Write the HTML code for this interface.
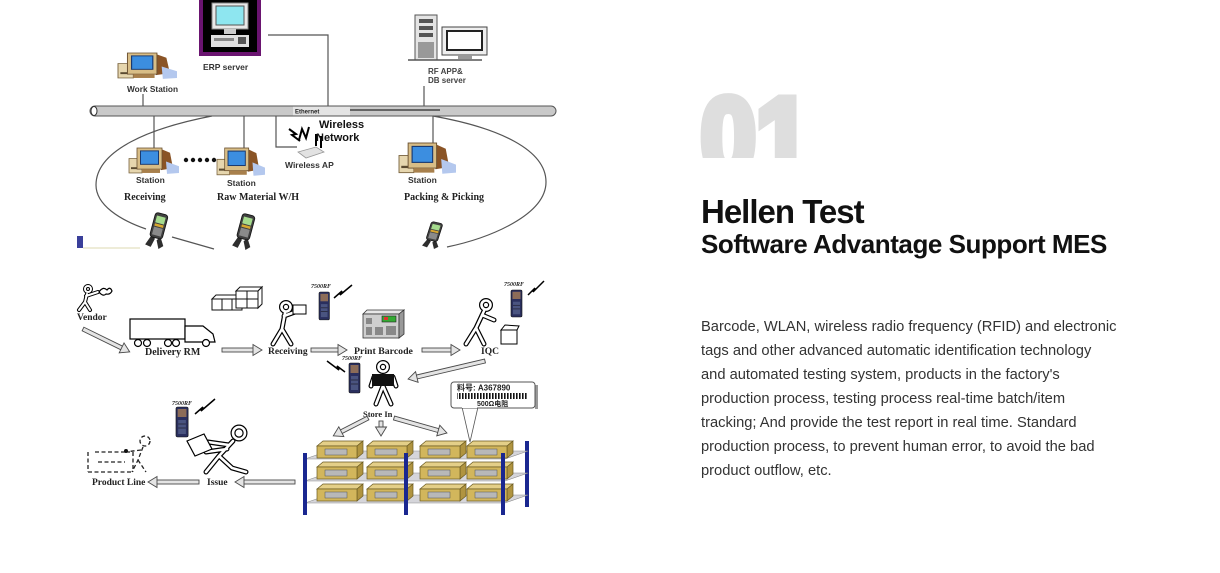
<!DOCTYPE html>
<html><head><meta charset="utf-8"><style>
html,body{margin:0;padding:0}
body{width:1220px;height:573px;background:#fff;position:relative;overflow:hidden;font-family:"Liberation Sans",sans-serif}
.num{position:absolute;left:698px;top:83px;width:140px;height:75px;overflow:hidden}
.num span{display:block;font:bold 110px/110px "Liberation Sans",sans-serif;color:#dedede;-webkit-text-stroke:9px #dedede;transform:scaleX(0.9);transform-origin:0 0;white-space:nowrap;padding-left:3px}
.h1{position:absolute;left:701px;top:195px;font:bold 33px/33px "Liberation Sans",sans-serif;letter-spacing:-1px;color:#111;white-space:nowrap}
.h2{position:absolute;left:701px;top:231px;font:bold 26px/26px "Liberation Sans",sans-serif;letter-spacing:-0.45px;color:#111;white-space:nowrap}
.txt{position:absolute;left:701px;top:315px;font:14.7px/24px "Liberation Sans",sans-serif;color:#333;white-space:nowrap}
svg text{font-family:"Liberation Sans",sans-serif;font-weight:bold}
.sf{font-family:"Liberation Serif",serif !important}
.a{fill:#e4e4e4;stroke:#4a4a4a;stroke-width:0.9}
</style></head><body>
<svg width="600" height="520" viewBox="0 0 600 520" style="position:absolute;left:0;top:0">
<defs>
<g id="st">
 <rect x="0" y="11" width="13" height="15" fill="#e6d6ae" stroke="#7a6440" stroke-width="0.8"/>
 <rect x="2" y="20" width="8" height="2" fill="#5a4a30"/>
 <polygon points="32,1 41,5 44,21 32,23" fill="#8a5426"/>
 <polygon points="37,14 50,19 50,26 38,27" fill="#b4c8ee"/>
 <rect x="8" y="0" width="25" height="22" fill="#d8bd86" stroke="#6a5030" stroke-width="0.8"/>
 <rect x="11.5" y="3" width="18" height="14" fill="#3c8ee0" stroke="#1a3a70" stroke-width="1"/>
 <rect x="13" y="22" width="18" height="4" fill="#a8804c"/>
</g>
<g id="hh">
 <g transform="rotate(15 13 18)">
 <path d="M9,23 L5,34 L11,35 L13,26 Z" fill="#2e2e2e"/>
 <path d="M18,23 L23,31 L19,35 L15,27 Z" fill="#2e2e2e"/>
 <rect x="7" y="0" width="13" height="25" rx="3" fill="#404040" stroke="#111" stroke-width="0.8"/>
 <rect x="9" y="3" width="9" height="7" fill="#a6dc8e"/>
 <rect x="9" y="11" width="9" height="2.5" fill="#d8a830"/>
 <rect x="9" y="14.5" width="9" height="8" fill="#8a8a8a"/>
 </g>
</g>
<g id="rf">
 <rect x="0" y="0" width="11" height="30" rx="1.5" fill="#2a2f5e" stroke="#111" stroke-width="0.6"/>
 <rect x="1.5" y="2" width="8" height="8" fill="#8c6c58"/>
 <rect x="2" y="13" width="7" height="14" fill="#4a5480"/>
 <line x1="2" y1="17" x2="9" y2="17" stroke="#223" stroke-width="0.8"/>
 <line x1="2" y1="21" x2="9" y2="21" stroke="#223" stroke-width="0.8"/>
</g>
<pattern id="bc" width="3" height="6" patternUnits="userSpaceOnUse"><rect width="1.6" height="6" fill="#111"/></pattern>
<g id="fRec"><circle cx="286" cy="307" r="4.5"/><path d="M285,313 L282,329 M282,329 L273,344 M282,329 L291,344 M284,316 L295,312"/></g>
<g id="fIqc"><circle cx="486" cy="305" r="4.5"/><path d="M484,311 L476,328 M476,328 L466,344 M476,328 L484,344 M482,315 L494,320"/></g>
<g id="fSto"><circle cx="383" cy="367" r="4.5"/><path d="M383,386 L376,404 M383,386 L391,404 M374,377 L371,386 M393,377 L396,386"/></g>
<g id="fIss"><circle cx="239" cy="433" r="6"/><path d="M233,441 L219,456 M219,456 L206,472 M219,456 L232,468 L246,472 M229,445 L208,442 M227,449 L206,452"/></g>
<g id="fVen"><circle cx="88" cy="289" r="3"/><path d="M87,294 L85,302 M85,302 L79,310 M85,302 L90,310 M86,296 L98,292"/></g>
</defs>

<!-- top network -->
<rect x="201" y="-3" width="58" height="57" fill="#000" stroke="#6a1470" stroke-width="4"/>
<rect x="212" y="3" width="36" height="26" fill="#e8e8e8" stroke="#888"/>
<rect x="216" y="6" width="28" height="19" fill="#8ee6f0" stroke="#555"/>
<rect x="224" y="29" width="12" height="5" fill="#ccc"/>
<rect x="211" y="35" width="38" height="12" fill="#e0e0e0"/>
<rect x="214" y="38" width="20" height="3" fill="#888"/>
<rect x="238" y="37" width="8" height="7" fill="#555"/>
<text x="203" y="70" font-size="8.5" fill="#333">ERP server</text>
<polyline points="268,35 328,35 328,106" fill="none" stroke="#555" stroke-width="1.2"/>

<use href="#st" transform="translate(118,53) scale(1.18,0.96)"/>
<text x="127" y="92" font-size="8.3" fill="#333">Work Station</text>
<line x1="143" y1="94" x2="143" y2="106" stroke="#555" stroke-width="1.2"/>

<rect x="415" y="15" width="22" height="45" fill="#e4e4e4" stroke="#555" stroke-width="1"/>
<rect x="419" y="19" width="14" height="4" fill="#555"/>
<rect x="419" y="26" width="14" height="4" fill="#555"/>
<rect x="419" y="33" width="14" height="4" fill="#555"/>
<rect x="418" y="42" width="16" height="16" fill="#999"/>
<rect x="442" y="27" width="45" height="28" fill="#eee" stroke="#444"/>
<rect x="447" y="31" width="35" height="19" fill="#fff" stroke="#222" stroke-width="2"/>
<rect x="458" y="55" width="14" height="4" fill="#999"/>
<line x1="408" y1="60" x2="482" y2="60" stroke="#555" stroke-width="1.5"/>
<text x="428" y="74" font-size="8" fill="#444">RF APP&amp;</text>
<text x="428" y="83" font-size="8" fill="#444">DB server</text>
<line x1="424" y1="86" x2="424" y2="106" stroke="#555" stroke-width="1.2"/>

<rect x="90" y="106" width="466" height="10" rx="5" fill="#c9c9c9" stroke="#555" stroke-width="1"/>
<ellipse cx="94" cy="111" rx="3" ry="4.5" fill="#fff" stroke="#333"/>
<rect x="293" y="106.6" width="57" height="8.8" fill="#e4e4e4"/>
<text x="295" y="113.5" font-size="6" fill="#222">Ethernet</text>
<line x1="350" y1="110" x2="440" y2="110" stroke="#444" stroke-width="1.5"/>

<g stroke="#555" stroke-width="1.2" fill="none">
<line x1="154" y1="116" x2="154" y2="150"/>
<line x1="244" y1="116" x2="244" y2="150"/>
<line x1="433" y1="116" x2="433" y2="145"/>
<polyline points="276,116 276,147 297,147"/>
<path d="M212,116 C150,128 96,150 96,185 C96,205 120,220 146,229"/>
<path d="M172,237 L214,249"/>
<path d="M433,116 C500,128 546,150 546,182 C546,215 490,238 447,247"/>
</g>

<g stroke="#000" stroke-width="2" fill="none" stroke-linejoin="miter">
<polyline points="289,129 296,134 292,135 300,141"/>
<polyline points="299,140 302,129 306,138 309,127"/>
<line x1="316" y1="134" x2="316" y2="146"/>
<line x1="321" y1="136" x2="321" y2="148"/>
</g>
<text x="319" y="128" font-size="11" fill="#111">Wireless</text>
<text x="316" y="141" font-size="11" fill="#111">Network</text>
<polygon points="298,152 316,147 324,152 306,158" fill="#e2e2e2" stroke="#999" stroke-width="0.8"/>
<text x="285" y="168" font-size="8.5" fill="#333">Wireless AP</text>

<use href="#st" transform="translate(129,148) scale(1,0.96)"/>
<use href="#st" transform="translate(217,148) scale(0.96,1.03)"/>
<use href="#st" transform="translate(399,143) scale(1.14,1.14)"/>
<g fill="#111"><circle cx="186" cy="160" r="2.2"/><circle cx="193" cy="160" r="2.2"/><circle cx="200" cy="160" r="2.2"/><circle cx="207" cy="160" r="2.2"/><circle cx="214" cy="160" r="2.2"/></g>
<text x="136" y="183" font-size="8.5" fill="#333">Station</text>
<text x="227" y="186" font-size="8.5" fill="#333">Station</text>
<text x="408" y="183" font-size="8.5" fill="#333">Station</text>
<text class="sf" x="124" y="200" font-size="10" fill="#222">Receiving</text>
<text class="sf" x="217" y="200" font-size="10" fill="#222">Raw Material W/H</text>
<text class="sf" x="404" y="200" font-size="10" fill="#222">Packing &amp; Picking</text>

<use href="#hh" transform="translate(144,213)"/>
<use href="#hh" transform="translate(231,214)"/>
<use href="#hh" transform="translate(421,222) scale(0.9,0.75)"/>
<rect x="77" y="236" width="6" height="12" fill="#3a3f9a"/>
<line x1="83" y1="248" x2="140" y2="248" stroke="#dcd8b0" stroke-width="1"/>

<!-- lower flow -->
<use href="#fVen" fill="none" stroke="#000" stroke-width="4" stroke-linecap="round"/>
<use href="#fVen" fill="none" stroke="#fff" stroke-width="2" stroke-linecap="round"/>
<path d="M99,292 q4,-6 8,-2 q3,-4 5,1 q-2,4 -6,3 q-3,3 -7,-2z" fill="none" stroke="#000" stroke-width="1.2"/>
<text class="sf" x="77" y="320" font-size="9.5" fill="#222">Vendor</text>

<g fill="#fff" stroke="#111" stroke-width="1">
 <polygon points="212,299 216,295 246,295 242,299"/>
 <rect x="212" y="299" width="30" height="11"/>
 <line x1="222" y1="299" x2="222" y2="310"/><line x1="232" y1="299" x2="232" y2="310"/>
 <polygon points="236,291 240,287 262,287 258,291"/>
 <rect x="236" y="291" width="22" height="17"/>
 <line x1="247" y1="291" x2="247" y2="308"/><line x1="236" y1="299" x2="258" y2="299"/>
 <polygon points="258,291 262,287 262,304 258,308"/>
</g>

<g fill="#fff" stroke="#000" stroke-width="1.2">
 <rect x="130" y="319" width="55" height="20"/>
 <path d="M185,326 L203,326 L213,334 L215,342 L185,342 Z"/>
 <circle cx="138" cy="343" r="3.5"/><circle cx="147" cy="343" r="3.5"/><circle cx="168" cy="343" r="3.5"/><circle cx="176" cy="343" r="3.5"/><circle cx="206" cy="343" r="3.5"/>
</g>
<text class="sf" x="145" y="355" font-size="10" fill="#222">Delivery RM</text>

<use href="#fRec" fill="none" stroke="#000" stroke-width="5" stroke-linecap="round"/>
<use href="#fRec" fill="none" stroke="#fff" stroke-width="2.6" stroke-linecap="round"/>
<rect x="293" y="305" width="13" height="9" fill="#fff" stroke="#000"/>
<text class="sf" x="268" y="354" font-size="9.5" fill="#222">Receiving</text>

<text class="sf" x="311" y="288" font-size="6" font-style="italic" fill="#222">7500RF</text>
<use href="#rf" transform="translate(319,292) scale(0.95,0.93)"/>
<polyline points="334,298 342,291 340,295 352,285" fill="none" stroke="#000" stroke-width="1.5"/>

<polygon points="363,314 367,310 404,310 399,314" fill="#e8e8e8" stroke="#333" stroke-width="0.8"/>
<rect x="363" y="314" width="36" height="24" fill="#cfcfcf" stroke="#333" stroke-width="0.8"/>
<polygon points="399,314 404,310 404,334 399,338" fill="#999" stroke="#333" stroke-width="0.8"/>
<rect x="382" y="316" width="14" height="6" fill="#3a3" stroke="#222" stroke-width="0.6"/>
<rect x="384" y="317" width="4" height="3" fill="#d33"/>
<g fill="#888"><rect x="366" y="318" width="6" height="6"/><rect x="366" y="327" width="6" height="8"/><rect x="375" y="327" width="8" height="8"/><rect x="386" y="326" width="10" height="9"/></g>
<text class="sf" x="354" y="354" font-size="9.8" fill="#222">Print Barcode</text>

<use href="#fIqc" fill="none" stroke="#000" stroke-width="5" stroke-linecap="round"/>
<use href="#fIqc" fill="none" stroke="#fff" stroke-width="2.6" stroke-linecap="round"/>
<rect x="501" y="330" width="16" height="14" fill="#fff" stroke="#000"/>
<polygon points="501,330 505,325 519,326 517,330" fill="#fff" stroke="#000"/>
<text class="sf" x="504" y="286" font-size="6" font-style="italic" fill="#222">7500RF</text>
<use href="#rf" transform="translate(511,290) scale(1,0.9)"/>
<polyline points="528,295 535,288 533,292 544,281" fill="none" stroke="#000" stroke-width="1.5"/>
<text class="sf" x="481" y="354" font-size="9.5" fill="#222">IQC</text>

<use href="#fSto" fill="none" stroke="#000" stroke-width="5" stroke-linecap="round"/>
<use href="#fSto" fill="none" stroke="#fff" stroke-width="2.6" stroke-linecap="round"/>
<rect x="372" y="374" width="22" height="12" fill="#111"/>
<text class="sf" x="342" y="360" font-size="6" font-style="italic" fill="#222">7500RF</text>
<use href="#rf" transform="translate(349,363)"/>
<polyline points="345,372 337,366 339,370 327,361" fill="none" stroke="#000" stroke-width="1.5"/>
<text class="sf" x="363" y="417" font-size="8.5" fill="#222">Store In</text>

<use href="#fIss" fill="none" stroke="#000" stroke-width="5" stroke-linecap="round"/>
<use href="#fIss" fill="none" stroke="#fff" stroke-width="2.6" stroke-linecap="round"/>
<polygon points="187,441 204,434 212,449 195,456" fill="#fff" stroke="#000" stroke-width="1.2"/>
<text class="sf" x="172" y="405" font-size="6" font-style="italic" fill="#222">7500RF</text>
<use href="#rf" transform="translate(176,407) scale(1.1,1)"/>
<polyline points="195,414 203,407 201,411 215,399" fill="none" stroke="#000" stroke-width="1.5"/>
<text class="sf" x="207" y="485" font-size="9.5" fill="#222">Issue</text>

<g stroke="#222" stroke-width="1.3" fill="none" stroke-dasharray="4 2.5">
 <path d="M88,452 L88,472 M88,472 L133,472 M133,452 L133,472 M95,452 L130,452 M98,462 L125,462"/>
 <circle cx="145" cy="441" r="5"/>
 <path d="M143,447 L138,460 L132,472 M138,460 L146,472 M141,450 L125,452"/>
</g>
<circle cx="126" cy="451" r="2" fill="#111"/>
<text class="sf" x="92" y="485" font-size="9.5" fill="#222">Product Line</text>

<!-- arrows -->
<g transform="translate(83 329) rotate(26.1)"><rect class="a" x="0" y="-2" width="45" height="4"/><polygon class="a" points="43,-5.5 52,0 43,5.5"/></g>
<g transform="translate(222 350)"><rect class="a" x="0" y="-2" width="33" height="4"/><polygon class="a" points="31,-5.5 40,0 31,5.5"/></g>
<g transform="translate(311 350)"><rect class="a" x="0" y="-2" width="29" height="4"/><polygon class="a" points="27,-5.5 36,0 27,5.5"/></g>
<g transform="translate(422 350)"><rect class="a" x="0" y="-2" width="31" height="4"/><polygon class="a" points="29,-5.5 38,0 29,5.5"/></g>
<g transform="translate(485 361) rotate(166.8)"><rect class="a" x="0" y="-2" width="72" height="4"/><polygon class="a" points="70,-5.5 79,0 70,5.5"/></g>
<g transform="translate(368 418) rotate(152.8)"><rect class="a" x="0" y="-2" width="32" height="4"/><polygon class="a" points="30,-5.5 39,0 30,5.5"/></g>
<g transform="translate(381 421) rotate(90)"><rect class="a" x="0" y="-2" width="8" height="4"/><polygon class="a" points="6,-5.5 15,0 6,5.5"/></g>
<g transform="translate(394 418) rotate(15.8)"><rect class="a" x="0" y="-2" width="48" height="4"/><polygon class="a" points="46,-5.5 55,0 46,5.5"/></g>
<g transform="translate(295 482) rotate(180)"><rect class="a" x="0" y="-2" width="53" height="4"/><polygon class="a" points="51,-5.5 60,0 51,5.5"/></g>
<g transform="translate(199 482) rotate(180)"><rect class="a" x="0" y="-2" width="44" height="4"/><polygon class="a" points="42,-5.5 51,0 42,5.5"/></g>

<!-- shelves -->
<rect x="525" y="441" width="4" height="66" fill="#1a2790"/>
<g fill="#d5d5da" stroke="#8a8a8a" stroke-width="0.6">
 <polygon points="305,459 505,459 528,451 328,451"/>
 <polygon points="305,481 505,481 528,473 328,473"/>
 <polygon points="305,503 505,503 528,495 328,495"/>
</g>
<g stroke="#6a5a20" stroke-width="0.7">
 <g id="brow">
  <polygon points="317,446 323,441 363,441 357,446" fill="#e4cf88"/><polygon points="357,446 363,441 363,453 357,458" fill="#b09440"/><rect x="317" y="446" width="40" height="12" fill="#d2b65c"/><rect x="325" y="449" width="22" height="6" fill="#b8b8b8" stroke="#555" stroke-width="0.5"/>
  <polygon points="367,446 373,441 413,441 407,446" fill="#e4cf88"/><polygon points="407,446 413,441 413,453 407,458" fill="#b09440"/><rect x="367" y="446" width="40" height="12" fill="#d2b65c"/><rect x="375" y="449" width="22" height="6" fill="#b8b8b8" stroke="#555" stroke-width="0.5"/>
  <polygon points="420,446 426,441 466,441 460,446" fill="#e4cf88"/><polygon points="460,446 466,441 466,453 460,458" fill="#b09440"/><rect x="420" y="446" width="40" height="12" fill="#d2b65c"/><rect x="428" y="449" width="22" height="6" fill="#b8b8b8" stroke="#555" stroke-width="0.5"/>
  <polygon points="467,446 473,441 513,441 507,446" fill="#e4cf88"/><polygon points="507,446 513,441 513,453 507,458" fill="#b09440"/><rect x="467" y="446" width="40" height="12" fill="#d2b65c"/><rect x="475" y="449" width="22" height="6" fill="#b8b8b8" stroke="#555" stroke-width="0.5"/>
 </g>
 <use href="#brow" transform="translate(0,21)"/>
 <use href="#brow" transform="translate(0,43)"/>
</g>
<rect x="303" y="453" width="4" height="62" fill="#1a2790"/>
<rect x="404" y="453" width="4" height="62" fill="#1a2790"/>
<rect x="501" y="453" width="4" height="62" fill="#1a2790"/>

<!-- callout -->
<polygon points="462,407 478,407 470,442" fill="#fff" stroke="#555" stroke-width="0.8"/>
<rect x="535" y="385" width="3" height="24" fill="#999"/>
<rect x="451" y="382" width="84" height="26" rx="3" fill="#fff" stroke="#555"/>
<rect x="462" y="406" width="15" height="2" fill="#fff"/>
<text x="457" y="390.5" font-size="8" fill="#222" style="font-family:'Liberation Sans','Noto Sans CJK SC',sans-serif">料号: A367890</text>
<rect x="457" y="393" width="70" height="6" fill="url(#bc)"/>
<text x="477" y="406" font-size="7" fill="#222" style="font-family:'Liberation Sans','Noto Sans CJK SC',sans-serif">500Ω电阻</text>
</svg>

<div class="num"><span>01</span></div>
<div class="h1">Hellen Test</div>
<div class="h2">Software Advantage Support MES</div>
<div class="txt">Barcode, WLAN, wireless radio frequency (RFID) and electronic<br>tags and other advanced automatic identification technology<br>and automated testing system, products in the factory's<br>production process, testing process real-time batch/item<br>tracking; And provide the test report in real time. Standard<br>production process, to prevent human error, to avoid the bad<br>product outflow, etc.</div>
</body></html>
